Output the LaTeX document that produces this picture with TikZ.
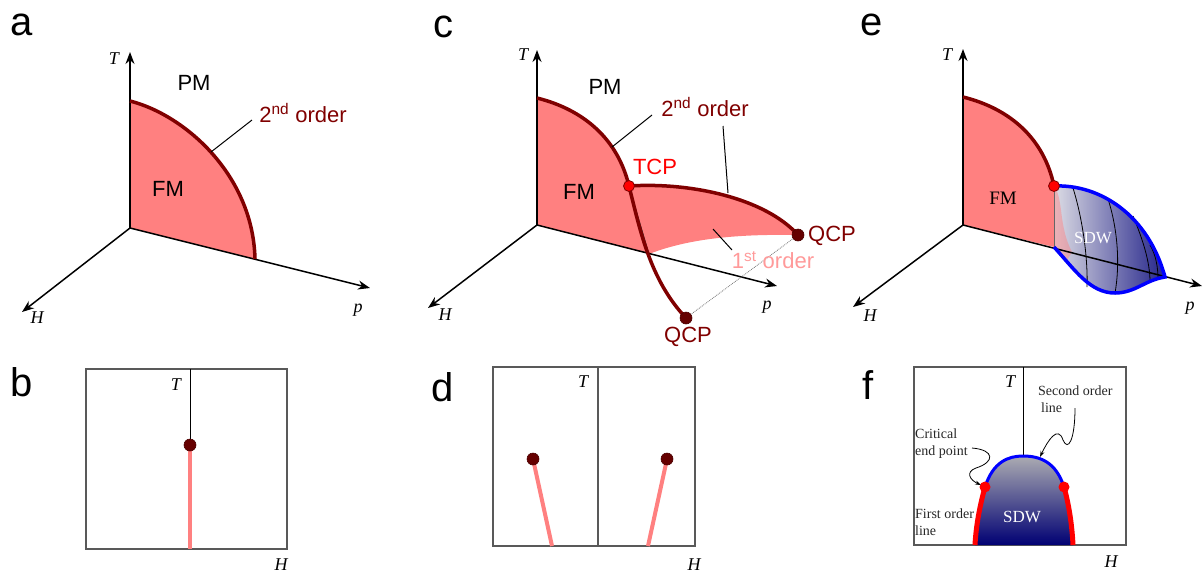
\documentclass[tikz,border=0pt]{standalone}
\usepackage{fontspec}
\setmainfont{Liberation Serif}
\setsansfont{Liberation Sans}
\usetikzlibrary{arrows.meta,positioning}
\definecolor{fmfill}{HTML}{FF8080}
\definecolor{lineRed}{HTML}{800000}
\definecolor{qcpRed}{HTML}{660000}
\definecolor{firstPink}{HTML}{FF9A9A}
\definecolor{sdwLight}{HTML}{DCDCE4}
\definecolor{sdwDark}{HTML}{24248A}

\begin{document}
\begin{tikzpicture}[x=1pt, y=-1pt,
  lbl/.style={font=\sffamily\fontsize{22}{26}\selectfont, inner sep=0pt},
  panel/.style={font=\sffamily\fontsize{40}{46}\selectfont, inner sep=0pt},
  axlbl/.style={font=\itshape\fontsize{18}{20}\selectfont, inner sep=0pt},
  serif/.style={font=\fontsize{19}{22}\selectfont, inner sep=0pt},
  note/.style={font=\fontsize{14}{17}\selectfont, inner sep=0pt, align=left, text=black!85},
  axis/.style={-{Stealth[length=12pt,width=9pt]}, line width=1.5pt},
  phase/.style={line width=3.5pt, draw=lineRed},
  leader/.style={line width=1pt},
  frame/.style={draw=black!65, line width=1.3pt},
  qcp/.style={circle, fill=qcpRed, draw=black!70!red, line width=0.6pt, minimum size=12pt, inner sep=0pt},
  tcp/.style={circle, fill=red, draw=lineRed, line width=0.8pt, minimum size=11pt, inner sep=0pt},
  pinkline/.style={draw=fmfill, line width=4pt},
  squig/.style={-{Stealth[length=6pt,width=4pt]}, line width=0.8pt}
]
\useasboundingbox (0,0) rectangle (1204,574);

% panel a
\coordinate (a0) at (130,228);
\coordinate (aT) at (130,52);
\coordinate (aH) at (22,312);
\coordinate (aP) at (370,288);
\coordinate (aTc) at (130,101);
\coordinate (aPc) at (255,259);
\fill[fmfill] (a0) -- (aTc) .. controls (185,115) and (253,175) .. (aPc) -- cycle;
\draw[axis] (a0) -- (aT);
\draw[axis] (a0) -- (aH);
\draw[axis] (a0) -- (aP);
\draw[phase] (aTc) .. controls (185,115) and (253,175) .. (aPc);
\node[panel] (la) at (22,25) {a};
\node[axlbl] (aTl) at (114,59) {T};
\node[axlbl] (aHl) at (37,318) {H};
\node[axlbl] (aPl) at (358,310) {p};
\node[lbl] (aPM) at (194,83) {PM};
\node[lbl] (aFM) at (168,189) {FM};
\node[lbl, text=lineRed] (a2nd) at (303,113) {2\textsuperscript{nd} order};
\coordinate (aL1) at (211,152);
\coordinate (aL2) at (252,120);
\draw[leader] (aL1) -- (aL2);

% panel c
\coordinate (c0) at (537,225);
\coordinate (cT) at (537,50);
\coordinate (cH) at (428,308);
\coordinate (cP) at (777,286);
\coordinate (cTc) at (537,98);
\coordinate (cTCP) at (629,186);
\coordinate (cQa) at (798,235);
\coordinate (cQb) at (686,318);
\coordinate (cX) at (649,254);
\fill[fmfill] (c0) -- (cTc) .. controls (585,110) and (618,140) .. (cTCP)
  .. controls (690,182) and (765,198) .. (cQa)
  .. controls (740,234) and (690,238) .. (cX) -- cycle;
\draw[line width=0.8pt, black!80] (cTCP) -- (cX);
\draw[axis] (c0) -- (cT);
\draw[axis] (c0) -- (cH);
\draw[axis] (c0) -- (cP);
\draw[black!55, densely dotted, line width=0.8pt] (cQb) -- (cQa);
\draw[phase] (cTc) .. controls (585,110) and (618,140) .. (cTCP);
\draw[phase] (cTCP) .. controls (690,182) and (765,198) .. (cQa);
\draw[phase] (cTCP) .. controls (640,230) and (650,280) .. (cQb);
\node[tcp] (cTCPdot) at (cTCP) {};
\node[qcp] (cQadot) at (cQa) {};
\node[qcp] (cQbdot) at (cQb) {};
\node[panel] (lc) at (443,27) {c};
\node[axlbl] (cTl) at (523,55) {T};
\node[axlbl] (cHl) at (445,315) {H};
\node[axlbl] (cPl) at (767,307) {p};
\node[lbl] (cPM) at (605,87) {PM};
\node[lbl] (cFM) at (579,192) {FM};
\node[lbl, text=lineRed] (c2nd) at (705,107) {2\textsuperscript{nd} order};
\node[lbl, text=red] (cTCPl) at (655,167) {TCP};
\node[lbl, text=firstPink] (c1st) at (773,260) {1\textsuperscript{st} order};
\node[lbl, text=lineRed, anchor=west] (cQal) at (808,236) {QCP};
\node[lbl, text=lineRed] (cQbl) at (688,337) {QCP};
\coordinate (cL1) at (612,147);
\coordinate (cL2) at (652,115);
\coordinate (cL3) at (723,126);
\coordinate (cL4) at (728,193);
\coordinate (cL5) at (713,229);
\coordinate (cL6) at (732,250);
\draw[leader] (cL1) -- (cL2);
\draw[leader] (cL3) -- (cL4);
\draw[leader] (cL5) -- (cL6);

% panel e
\coordinate (e0) at (963,225);
\coordinate (eT) at (963,49);
\coordinate (eH) at (853,307);
\coordinate (eP) at (1202,286);
\coordinate (eTc) at (963,97);
\coordinate (eCEP) at (1054,186);
\coordinate (eBase) at (1054,247);
\coordinate (eEnd) at (1165,277);
\coordinate (eLow) at (1115,293);
\fill[fmfill] (e0) -- (eTc) .. controls (1011,109) and (1044,139) .. (eCEP) -- (eBase) -- cycle;
\shade[left color=sdwLight, right color=sdwDark]
  (eCEP) .. controls (1100,184) and (1148,215) .. (eEnd)
  .. controls (1145,280) and (1135,293) .. (eLow)
  .. controls (1090,293) and (1075,270) .. (eBase) -- cycle;
\fill[fmfill, opacity=0.45] (eCEP) .. controls (1064,200) and (1058,225) .. (1072,252)
  -- (1066,262) -- (eBase) -- cycle;
\draw[line width=0.8pt] (1073,188) .. controls (1083,220) and (1088,260) .. (1087,287);
\draw[line width=0.8pt] (1108,199) .. controls (1118,230) and (1120,265) .. (eLow);
\draw[line width=0.8pt] (1133,216) .. controls (1143,240) and (1150,262) .. (1150,282);
\draw[line width=0.8pt] (1150,245) .. controls (1156,255) and (1158,268) .. (1158,279);
\draw[line width=0.8pt, black!60] (eCEP) -- (eBase);
\draw[axis] (e0) -- (eT);
\draw[axis] (e0) -- (eH);
\draw[axis] (e0) -- (eP);
\draw[phase] (eTc) .. controls (1011,109) and (1044,139) .. (eCEP);
\draw[line width=3.5pt, blue] (eCEP) .. controls (1100,184) and (1148,215) .. (eEnd)
  .. controls (1145,280) and (1135,293) .. (eLow)
  .. controls (1090,293) and (1075,270) .. (eBase);
\node[tcp] (eCEPdot) at (eCEP) {};
\node[panel] (le) at (872,25) {e};
\node[axlbl] (eTl) at (947,55) {T};
\node[axlbl] (eHl) at (870,316) {H};
\node[axlbl] (ePl) at (1190,308) {p};
\node[serif] (eFM) at (1003,198) {FM};
\node[serif, font=\fontsize{17}{20}\selectfont, text=white] (eSDW) at (1093,238) {SDW};

% panel b
\draw[frame] (86,369) rectangle (287,549);
\coordinate (bTop) at (190,369);
\coordinate (bDot) at (190,445);
\coordinate (bBot) at (190,549);
\draw[line width=1pt] (bTop) -- (bDot);
\draw[pinkline] (bDot) -- (bBot);
\node[qcp] (bDotN) at (bDot) {};
\node[panel] (lb) at (22,382) {b};
\node[axlbl] (bTl) at (176,385) {T};
\node[axlbl] (bHl) at (281,565) {H};

% panel d
\draw[frame] (493,367) rectangle (695,546);
\coordinate (dTop) at (598,367);
\coordinate (dBot) at (598,546);
\coordinate (dDotL) at (533,459);
\coordinate (dDotR) at (667,459);
\coordinate (dEndL) at (552,546);
\coordinate (dEndR) at (648,546);
\draw[frame] (dTop) -- (dBot);
\draw[pinkline] (dDotL) -- (dEndL);
\draw[pinkline] (dDotR) -- (dEndR);
\node[qcp] (dDotLN) at (dDotL) {};
\node[qcp] (dDotRN) at (dDotR) {};
\node[panel] (ld) at (443,387) {d};
\node[axlbl] (dTl) at (583,382) {T};
\node[axlbl] (dHl) at (694,565) {H};

% panel f
\draw[frame] (914,367) rectangle (1126,545);
\coordinate (fTop) at (1023,367);
\coordinate (fDome) at (1023,456);
\coordinate (fCepL) at (985,487);
\coordinate (fCepR) at (1064,487);
\coordinate (fFootL) at (975,545);
\coordinate (fFootR) at (1073,545);
\shade[top color=black!22!sdwLight, bottom color=blue!45!black]
  (fFootL) .. controls (976,525) and (980,505) .. (fCepL)
  .. controls (993,462) and (1008,456) .. (fDome)
  .. controls (1040,456) and (1056,462) .. (fCepR)
  .. controls (1069,505) and (1072,525) .. (fFootR) -- cycle;
\draw[line width=1pt] (fTop) -- (fDome);
\draw[line width=3pt, blue] (fCepL) .. controls (993,462) and (1008,456) .. (fDome)
  .. controls (1040,456) and (1056,462) .. (fCepR);
\draw[line width=5pt, red] (fCepL) .. controls (980,505) and (976,525) .. (fFootL);
\draw[line width=5pt, red] (fCepR) .. controls (1069,505) and (1072,525) .. (fFootR);
\fill[red] (fCepL) circle (5.5);
\fill[red] (fCepR) circle (5.5);
\node[panel] (lf) at (868,385) {f};
\node[axlbl] (fTl) at (1010,382) {T};
\node[axlbl] (fHl) at (1111,562) {H};
\node[serif, font=\fontsize{17}{20}\selectfont, text=white] (fSDW) at (1022,517) {SDW};
\node[note, anchor=north west] (fSecond) at (1038,386) {Second order\\\hspace*{3pt}line};
\node[note, anchor=west] (fCrit) at (915,444) {Critical\\end point};
\node[note, anchor=west] (fFirst) at (915,522) {First order\\line};
\coordinate (fS1) at (1075,408);
\coordinate (fS2) at (1040,457);
\coordinate (fC1) at (972,448);
\coordinate (fC2) at (981,485);
\draw[squig] (fS1) .. controls (1075,440) and (1068,452) .. (1063,440)
  .. controls (1058,425) and (1048,440) .. (fS2);
\draw[squig] (fC1) .. controls (995,450) and (995,462) .. (976,468)
  .. controls (965,472) and (970,480) .. (fC2);
\end{tikzpicture}
\end{document}
